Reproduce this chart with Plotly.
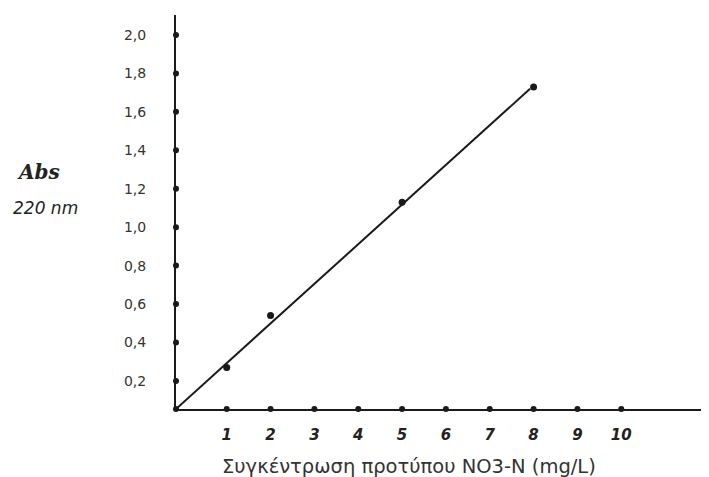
import plotly.graph_objects as go

# Data
conc = [1, 2, 5, 8]
absorb = [0.27, 0.54, 1.13, 1.73]
line_x = [-0.157, 7.92]
line_y = [0.054, 1.72]
x_ticks = [1, 2, 3, 4, 5, 6, 7, 8, 9, 10]
x_ticklabels = ["1", "2", "3", "4", "5", "6", "7", "8", "9", "10"]
y_ticks = [0.2, 0.4, 0.6, 0.8, 1.0, 1.2, 1.4, 1.6, 1.8, 2.0]
y_ticklabels = ["0,2", "0,4", "0,6", "0,8", "1,0", "1,2", "1,4", "1,6", "1,8", "2,0"]

x_range = [-0.157, 11.91]
y_range = [0.054, 2.104]

ink = "#1a1a1a"
fig = go.Figure()

# calibration line
fig.add_trace(go.Scatter(x=line_x, y=line_y, mode="lines",
                         line=dict(color=ink, width=2), cliponaxis=False,
                         showlegend=False, hoverinfo="skip"))
# measured points
fig.add_trace(go.Scatter(x=conc, y=absorb, mode="markers",
                         marker=dict(color=ink, size=7), cliponaxis=False,
                         showlegend=False))
# dots on the axes at the ticks
fig.add_trace(go.Scatter(x=x_ticks, y=[y_range[0]] * len(x_ticks), mode="markers",
                         marker=dict(color=ink, size=6), cliponaxis=False,
                         showlegend=False, hoverinfo="skip"))
fig.add_trace(go.Scatter(x=[x_range[0]] * (len(y_ticks) + 1), y=[y_range[0]] + y_ticks,
                         mode="markers", marker=dict(color=ink, size=6), cliponaxis=False,
                         showlegend=False, hoverinfo="skip"))

fig.update_layout(
    width=701, height=469,
    margin=dict(l=168, r=4, t=7, b=68),
    paper_bgcolor="white", plot_bgcolor="white",
    font=dict(family="DejaVu Sans", color="#333"),
    xaxis=dict(range=x_range, showgrid=False, zeroline=False,
               showline=True, linecolor=ink, linewidth=2,
               tickmode="array", tickvals=x_ticks,
               ticktext=["<i><b>" + t + "</b></i>" for t in x_ticklabels],
               ticks="", tickfont=dict(size=15, family="DejaVu Sans", color="#222"),
               ticklabelstandoff=11),
    yaxis=dict(range=y_range, showgrid=False, zeroline=False,
               showline=True, linecolor=ink, linewidth=2,
               tickmode="array", tickvals=y_ticks, ticktext=y_ticklabels,
               ticks="", tickfont=dict(size=14, family="DejaVu Sans", color="#333"),
               ticklabelstandoff=25),
)

fig.add_annotation(text="Συγκέντρωση προτύπου NO3-N (mg/L)", xref="paper", yref="paper",
                   x=0.44, y=-0.145, xanchor="center", yanchor="middle",
                   showarrow=False, font=dict(size=19.5, family="DejaVu Sans", color="#333"))
fig.add_annotation(text="<b><i>Abs</i></b>", xref="paper", yref="paper",
                   x=-0.26, y=0.6015, xanchor="center", yanchor="middle",
                   showarrow=False, font=dict(size=20, family="DejaVu Serif", color="#222"))
fig.add_annotation(text="<i>220 nm</i>", xref="paper", yref="paper",
                   x=-0.2476, y=0.51, xanchor="center", yanchor="middle",
                   showarrow=False, font=dict(size=17, family="DejaVu Sans", color="#222"))

fig.write_html("out.html")
